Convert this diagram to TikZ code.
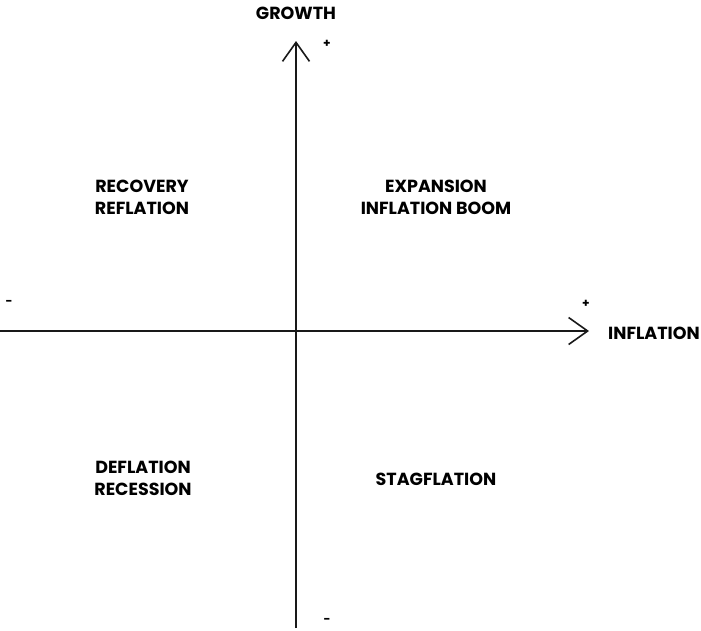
\documentclass[tikz,border=0pt]{standalone}
\usepackage{fontspec}
\setmainfont{Poppins}
\usetikzlibrary{arrows.meta}
\begin{document}
\begin{tikzpicture}[x=1pt,y=-1pt,
  axis/.style={line width=1.8pt, black!90,
    -{Straight Barb[length=19pt,width=27pt,line width=1.6pt]}},
  lbl/.style={font=\bfseries\fontsize{17.5}{22}\selectfont, align=center, inner sep=0pt},
  sgn/.style={font=\bfseries\fontsize{12}{12}\selectfont, inner sep=0pt}]
  \useasboundingbox (0,0) rectangle (701,630);
  % axis end points
  \coordinate (ybot) at (296,628);
  \coordinate (ytop) at (296,41);
  \coordinate (xleft) at (0,331);
  \coordinate (xright) at (589,331);
  \draw[axis] (ybot) -- (ytop);
  \draw[axis] (xleft) -- (xright);
  % axis titles and signs
  \node[lbl] (growth) at (296,13) {GROWTH};
  \node[lbl, anchor=west] (infl) at (608,333) {INFLATION};
  \node[sgn] (yplus) at (327,44) {+};
  \node[sgn] (yminus) at (327,621) {-};
  \node[sgn] (xplus) at (586,304) {+};
  \node[sgn] (xminus) at (9,303) {-};
  % quadrant labels
  \node[lbl] (q2) at (142,197) {RECOVERY\\REFLATION};
  \node[lbl] (q1) at (436,197) {EXPANSION\\INFLATION BOOM};
  \node[lbl] (q3) at (143,478) {DEFLATION\\RECESSION};
  \node[lbl] (q4) at (436,479) {STAGFLATION};
\end{tikzpicture}
\end{document}
